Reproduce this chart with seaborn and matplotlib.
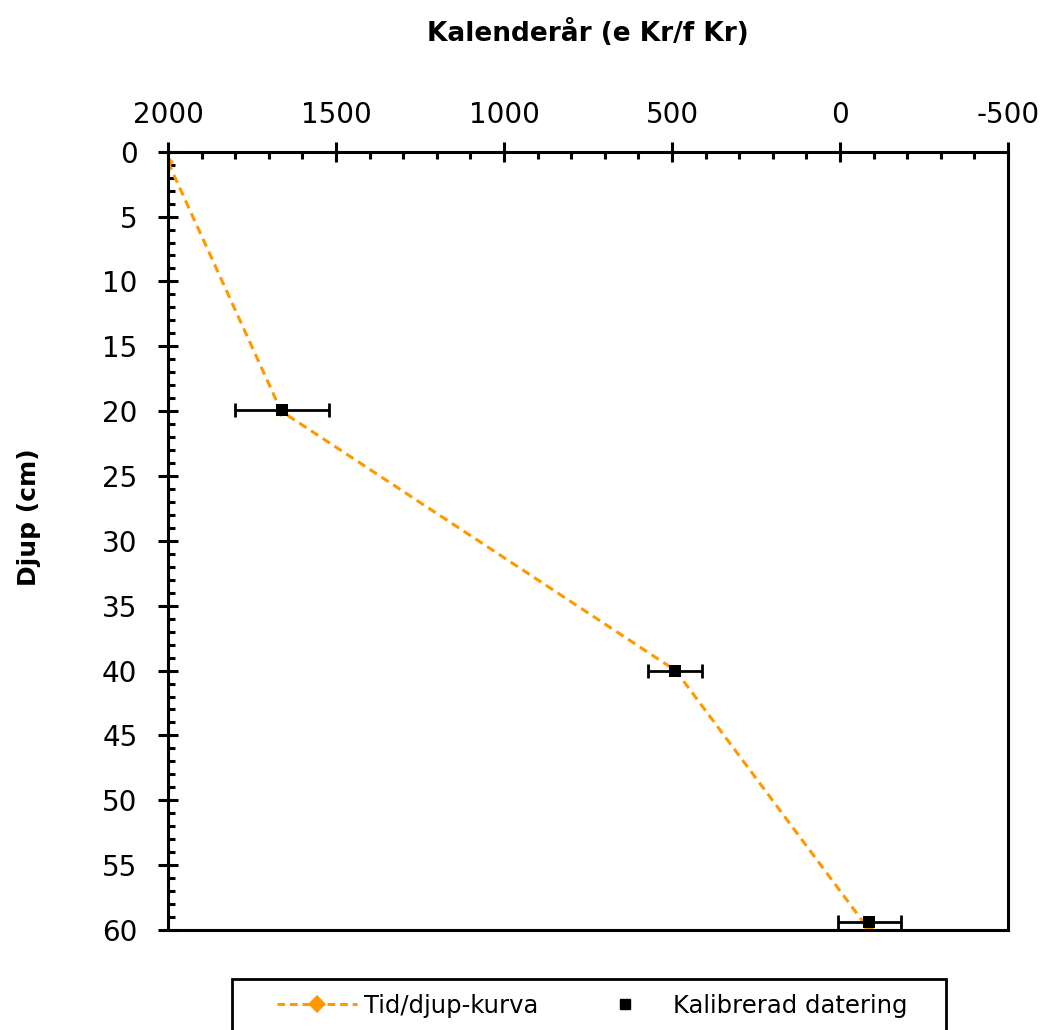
import matplotlib
matplotlib.use("Agg")
import matplotlib.pyplot as plt
from matplotlib.lines import Line2D
from matplotlib.patches import Rectangle
from matplotlib.ticker import MultipleLocator
import seaborn as sns
import pandas as pd

# ---- data ----
curve_year = [2000, 1663, 489, -87]
curve_depth = [0.8, 20, 40, 60]

dating_year = [1661, 491, -87]
dating_depth = [19.9, 40, 59.4]
dating_err = [140, 81, 94]

x_ticks = [2000, 1500, 1000, 500, 0, -500]
y_ticks = list(range(0, 61, 5))

title_text = "Kalenderår (e Kr/f Kr)"
ylabel_text = "Djup (cm)"
legend_labels = ["Tid/djup-kurva", "Kalibrerad datering"]

orange = "#FF9900"

sns.set_style("white")
plt.rcParams["font.family"] = ["DejaVu Sans"]
plt.rcParams["text.color"] = "black"

W, H = 1047, 1030
fig = plt.figure(figsize=(W / 100, H / 100), dpi=100)
ax = fig.add_axes([168 / W, 1 - 930 / H, (1008 - 168) / W, (930 - 151.7) / H])

curve_df = pd.DataFrame({"year": curve_year, "depth": curve_depth})
dating_df = pd.DataFrame({"year": dating_year, "depth": dating_depth, "err": dating_err})

sns.lineplot(data=curve_df, x="year", y="depth", sort=False, estimator=None,
             color=orange, lw=2.2, dashes=False, marker="D", markersize=6.5,
             markeredgewidth=0, ax=ax, zorder=2)
ax.lines[-1].set_dashes((2.8, 1.8))

ax.errorbar(dating_df["year"], dating_df["depth"], xerr=dating_df["err"],
            fmt="none", ecolor="black", elinewidth=2, capsize=5, capthick=2,
            zorder=3)
sns.scatterplot(data=dating_df, x="year", y="depth", marker="s", s=75,
                color="black", edgecolor="black", linewidth=0, ax=ax, zorder=4)

ax.set_xlim(2000, -500)
ax.set_ylim(60, 0)
ax.set_xlabel("")
ax.set_ylabel("")

ax.xaxis.tick_top()
ax.set_xticks(x_ticks)
ax.set_xticklabels([str(v) for v in x_ticks])
ax.set_yticks(y_ticks)
ax.set_yticklabels([str(v) for v in y_ticks])
ax.xaxis.set_minor_locator(MultipleLocator(100))
ax.yaxis.set_minor_locator(MultipleLocator(1))

ax.tick_params(axis="both", which="major", direction="inout", length=14, width=2.2,
               color="black", labelsize=20, labelcolor="black")
ax.tick_params(axis="both", which="minor", direction="in", length=5, width=2.2,
               color="black")
ax.tick_params(axis="x", which="both", top=True, bottom=False, labeltop=True,
               labelbottom=False)
ax.tick_params(axis="y", which="both", left=True, right=False)
ax.tick_params(axis="y", which="major", pad=15)
ax.tick_params(axis="x", which="major", pad=9)

for s in ax.spines.values():
    s.set_visible(True)
    s.set_color("black")
    s.set_linewidth(2.2)

fig.text(588 / W, 1 - 33 / H, title_text, ha="center", va="center",
         fontsize=19, fontweight="bold", color="black")
fig.text(29 / W, 1 - 517 / H, ylabel_text, ha="center", va="center",
         rotation=90, fontsize=18, fontweight="bold", color="black")

handles = [
    Line2D([], [], color=orange, lw=2.2, dashes=(2.5, 1.6), marker="D",
           markersize=9, markeredgewidth=0),
    Line2D([], [], color="black", ls="none", marker="s", markersize=7.5),
]
leg = fig.legend(handles, legend_labels, loc="center left",
                 bbox_to_anchor=(277 / W, 1 - 1006 / H), ncol=2, frameon=False,
                 handlelength=3.3, handletextpad=0.3, columnspacing=1.9,
                 borderpad=0, borderaxespad=0, fontsize=17.5, numpoints=1,
                 labelcolor="black")
fig.add_artist(Rectangle((232 / W, -0.05), (946 - 232) / W, (1 - 979 / H) + 0.05,
                         transform=fig.transFigure, fill=False, ec="black", lw=2))

fig.savefig("out.png", dpi=100)
